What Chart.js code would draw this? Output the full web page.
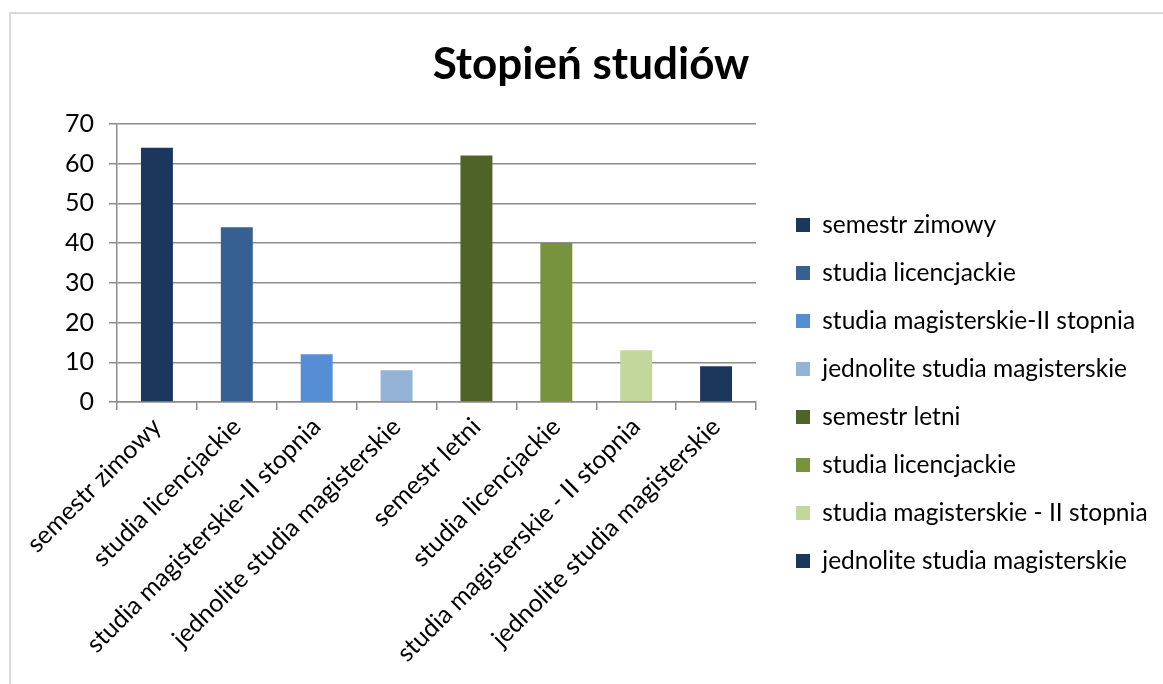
<!DOCTYPE html>
<html>
<head>
<meta charset="utf-8">
<script src="https://cdn.jsdelivr.net/npm/chart.js@4/dist/chart.umd.min.js"></script>
<style>
  html, body { margin: 0; padding: 0; background: #fff; }
  #frame { position: absolute; left: 9px; top: 12px; width: 1154px; height: 672px;
           border-left: 2px solid #d9d9d9; border-top: 2px solid #d9d9d9; box-sizing: border-box; }
  #c { position: absolute; left: 0; top: 0; }
</style>
</head>
<body>
<div id="frame"></div>
<canvas id="c" width="1163" height="684"></canvas>
<script>
const chartTitle = 'Stopień studiów';
const categories = [
  'semestr zimowy',
  'studia licencjackie',
  'studia magisterskie-II stopnia',
  'jednolite studia magisterskie',
  'semestr letni',
  'studia licencjackie',
  'studia magisterskie - II stopnia',
  'jednolite studia magisterskie'
];
const values = [64, 44, 12, 8, 62, 40, 13, 9];
const barColors = ['#1b375e', '#376092', '#558ed5', '#95b3d7', '#4f6228', '#77933c', '#c3d69b', '#1b375e'];
const yTicks = { min: 0, max: 70, step: 10 };

const FONT = "Lato, 'Open Sans', sans-serif";
const gridColor = '#8c8c8c';
const LABEL_SIZE = 25;
const LEGEND_SIZE = 24.5;
const LEGEND_WIDTH = 407;
const LEGEND_SHIFT = { x: 16.5, y: 51 };

const legendLayoutPlugin = {
  id: 'legendLayout',
  beforeLayout(chart) {
    const lg = chart.legend;
    if (lg && !lg.__patched) {
      const origFit = lg.fit.bind(lg);
      lg.fit = function () { origFit(); this.width = LEGEND_WIDTH; };
      lg.__patched = true;
    }
  },
  afterLayout(chart) {
    const lg = chart.legend;
    if (lg) {
      lg.left += LEGEND_SHIFT.x; lg.right += LEGEND_SHIFT.x;
      lg.top += LEGEND_SHIFT.y; lg.bottom += LEGEND_SHIFT.y;
    }
  }
};

new Chart(document.getElementById('c'), {
  type: 'bar',
  data: {
    labels: categories,
    datasets: [{
      data: values,
      backgroundColor: barColors,
      borderWidth: 0,
      categoryPercentage: 1.0,
      barPercentage: 0.4
    }]
  },
  plugins: [legendLayoutPlugin],
  options: {
    responsive: false,
    animation: false,
    layout: { padding: { left: 19, right: 0, top: 0, bottom: 0 } },
    plugins: {
      title: {
        display: true,
        text: chartTitle,
        color: '#000',
        font: { family: FONT, size: 44, weight: 'bold' },
        padding: { top: 38, bottom: 33 }
      },
      legend: {
        display: true,
        position: 'right',
        labels: {
          color: '#000',
          font: { family: FONT, size: LEGEND_SIZE },
          boxWidth: 14,
          boxHeight: 14,
          padding: 23.5,
          generateLabels: (chart) => {
            const ds = chart.data.datasets[0];
            return chart.data.labels.map((l, i) => ({
              text: l,
              fillStyle: ds.backgroundColor[i],
              strokeStyle: ds.backgroundColor[i],
              lineWidth: 0,
              hidden: false,
              index: i,
              fontColor: '#000'
            }));
          }
        }
      },
      tooltip: { enabled: false }
    },
    scales: {
      x: {
        afterFit: (scale) => { scale.height = 282; },
        grid: { display: true, drawOnChartArea: false, drawTicks: true, tickLength: 8, color: gridColor, lineWidth: 1.5, offset: true },
        border: { display: true, color: gridColor, width: 1.5 },
        ticks: {
          color: '#000',
          font: { family: FONT, size: LABEL_SIZE },
          minRotation: 45,
          maxRotation: 45,
          autoSkip: false,
          padding: 2
        }
      },
      y: {
        min: yTicks.min,
        max: yTicks.max,
        afterFit: (scale) => { scale.width = 98; },
        grid: { display: true, drawOnChartArea: true, drawTicks: true, tickLength: 8, color: gridColor, lineWidth: 1.5 },
        border: { display: true, color: gridColor, width: 1.5 },
        ticks: {
          stepSize: yTicks.step,
          color: '#000',
          font: { family: FONT, size: LABEL_SIZE },
          padding: 15
        }
      }
    }
  }
});
</script>
</body>
</html>
